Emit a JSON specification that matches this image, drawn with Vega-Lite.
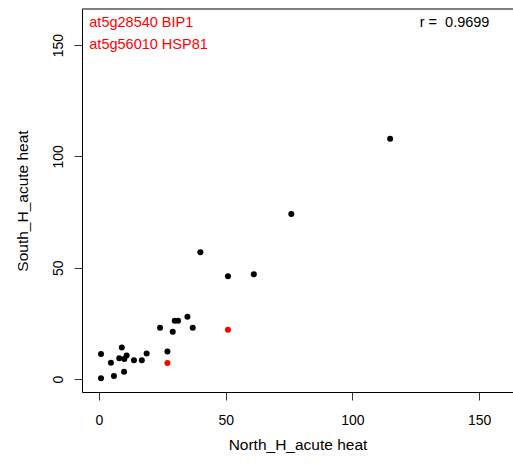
{
  "$schema": "https://vega.github.io/schema/vega-lite/v6.json",
  "usermeta": {"embedOptions": {"actions": false}},
  "width": 431,
  "height": 383,
  "autosize": {"type": "none"},
  "padding": {"left": 82, "top": 9, "right": 0, "bottom": 64},
  "background": "white",
  "view": {"stroke": "transparent", "strokeWidth": 0},
  "config": {
    "view": {"stroke": "transparent", "strokeWidth": 0},
    "font": "Liberation Sans",
    "axis": {
      "grid": false,
      "domainColor": "#000000",
      "domainWidth": 1,
      "tickColor": "#333333",
      "tickSize": 8,
      "labelColor": "#000000",
      "titleColor": "#000000",
      "labelFont": "Liberation Sans",
      "titleFont": "Liberation Sans",
      "labelFontSize": 14,
      "titleFontSize": 15.5,
      "titleFontWeight": "normal"
    }
  },
  "encoding": {
    "x": {
      "type": "quantitative",
      "scale": {"domain": [-6.71, 163.4], "nice": false, "zero": false},
      "axis": {
        "orient": "bottom",
        "values": [0, 50, 100, 150],
        "title": "North_H_acute heat",
        "labelPadding": 13,
        "titlePadding": 10
      }
    },
    "y": {
      "type": "quantitative",
      "scale": {"domain": [-5.84, 166.2], "nice": false, "zero": false},
      "axis": {
        "values": [0, 50, 100, 150],
        "title": "South_H_acute heat",
        "labelAngle": -90,
        "labelAlign": "center",
        "labelBaseline": "alphabetic",
        "labelPadding": 12,
        "titlePadding": 21
      }
    }
  },
  "layer": [
    {
      "data": {"values": [{"edge": "top"}]},
      "mark": {"type": "rule", "color": "#000000", "strokeWidth": 1},
      "encoding": {
        "y": {"datum": 166.2, "type": "quantitative"}
      }
    },
    {
      "data": {
        "values": [
          {"north": 0.8, "south": 11.2, "group": "other"},
          {"north": 0.8, "south": 0.3, "group": "other"},
          {"north": 4.7, "south": 7.3, "group": "other"},
          {"north": 5.9, "south": 1.3, "group": "other"},
          {"north": 9.0, "south": 14.2, "group": "other"},
          {"north": 8.0, "south": 9.3, "group": "other"},
          {"north": 10.0, "south": 9.0, "group": "other"},
          {"north": 10.9, "south": 10.5, "group": "other"},
          {"north": 9.9, "south": 3.3, "group": "other"},
          {"north": 13.8, "south": 8.4, "group": "other"},
          {"north": 16.9, "south": 8.4, "group": "other"},
          {"north": 18.8, "south": 11.4, "group": "other"},
          {"north": 24.1, "south": 23.0, "group": "other"},
          {"north": 29.1, "south": 21.2, "group": "other"},
          {"north": 29.9, "south": 26.2, "group": "other"},
          {"north": 31.2, "south": 26.2, "group": "other"},
          {"north": 34.9, "south": 28.0, "group": "other"},
          {"north": 37.0, "south": 23.0, "group": "other"},
          {"north": 27.0, "south": 12.3, "group": "other"},
          {"north": 40.0, "south": 56.9, "group": "other"},
          {"north": 50.9, "south": 46.1, "group": "other"},
          {"north": 61.1, "south": 47.0, "group": "other"},
          {"north": 75.9, "south": 74.1, "group": "other"},
          {"north": 114.9, "south": 107.9, "group": "other"},
          {"north": 27.0, "south": 7.2, "group": "highlight"},
          {"north": 50.9, "south": 22.1, "group": "highlight"}
        ]
      },
      "mark": {"type": "circle", "size": 36, "opacity": 1},
      "encoding": {
        "x": {"field": "north", "type": "quantitative"},
        "y": {"field": "south", "type": "quantitative"},
        "color": {
          "field": "group",
          "type": "nominal",
          "scale": {"domain": ["other", "highlight"], "range": ["#000000", "#FF0000"]},
          "legend": null
        }
      }
    },
    {
      "data": {"values": [{"label": "at5g28540 BIP1"}]},
      "mark": {"type": "text", "align": "left", "baseline": "middle", "color": "#FF0000", "fontSize": 14.5, "font": "Liberation Sans"},
      "encoding": {
        "text": {"field": "label"},
        "x": {"datum": -3.83, "type": "quantitative"},
        "y": {"datum": 160.0, "type": "quantitative"}
      }
    },
    {
      "data": {"values": [{"label": "at5g56010 HSP81"}]},
      "mark": {"type": "text", "align": "left", "baseline": "middle", "color": "#FF0000", "fontSize": 14.5, "font": "Liberation Sans"},
      "encoding": {
        "text": {"field": "label"},
        "x": {"datum": -3.83, "type": "quantitative"},
        "y": {"datum": 150.0, "type": "quantitative"}
      }
    },
    {
      "data": {"values": [{"label": "r = \u00a00.9699"}]},
      "mark": {"type": "text", "align": "right", "baseline": "middle", "color": "#000000", "fontSize": 14.5, "font": "Liberation Sans"},
      "encoding": {
        "text": {"field": "label"},
        "x": {"datum": 154.1, "type": "quantitative"},
        "y": {"datum": 160.0, "type": "quantitative"}
      }
    }
  ]
}
